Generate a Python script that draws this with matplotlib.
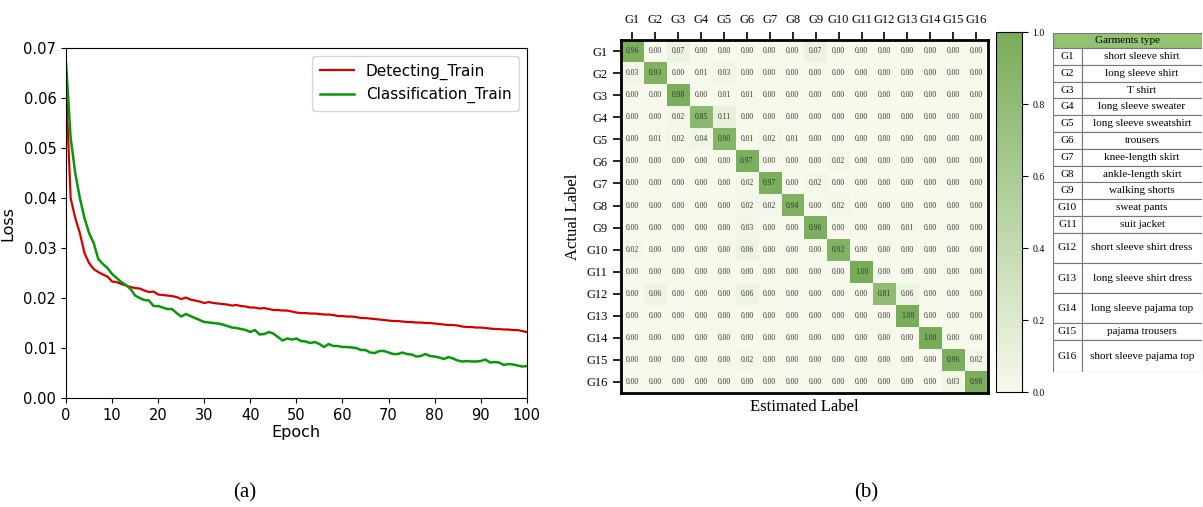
import numpy as np
import matplotlib.pyplot as plt
from matplotlib.colors import LinearSegmentedColormap
from matplotlib.patches import Rectangle

# ---- data ----
epochs = list(range(101))
detect_loss = [0.062, 0.040, 0.036, 0.033, 0.029, 0.027, 0.0258, 0.0252, 0.0247, 0.0243,
               0.0233, 0.0232, 0.0228, 0.0225, 0.0222, 0.0220, 0.0219, 0.0215, 0.0212, 0.0213,
               0.0207, 0.0206, 0.0205, 0.0204, 0.0202, 0.0198, 0.0201, 0.0197, 0.0195, 0.0193,
               0.0190, 0.0192, 0.0190, 0.0189, 0.0188, 0.0187, 0.0185, 0.0186, 0.0184, 0.0183,
               0.0181, 0.0181, 0.0179, 0.0180, 0.0178, 0.0176, 0.0176, 0.0175, 0.0175, 0.0173,
               0.0171, 0.0170, 0.0170, 0.0169, 0.0169, 0.0168, 0.0167, 0.0167, 0.0166, 0.0164,
               0.0164, 0.0163, 0.0163, 0.0162, 0.0160, 0.0160, 0.0159, 0.0158, 0.0157, 0.0156,
               0.0155, 0.0154, 0.0154, 0.0153, 0.0152, 0.0152, 0.0151, 0.0151, 0.0150, 0.0150,
               0.0149, 0.0148, 0.0147, 0.0146, 0.0146, 0.0145, 0.0143, 0.0142, 0.0142, 0.0141,
               0.0141, 0.0140, 0.0139, 0.0138, 0.0138, 0.0137, 0.0137, 0.0136, 0.0136, 0.0134,
               0.0132]
class_loss = [0.067, 0.052, 0.045, 0.040, 0.036, 0.033, 0.031, 0.0278, 0.0268, 0.0260,
              0.0248, 0.0240, 0.0232, 0.0226, 0.0218, 0.0205, 0.0200, 0.0196, 0.0195, 0.0184,
              0.0184, 0.0181, 0.0178, 0.0178, 0.0170, 0.0163, 0.0168, 0.0164, 0.0160, 0.0156,
              0.0152, 0.0151, 0.0150, 0.0149, 0.0147, 0.0144, 0.0141, 0.0140, 0.0138, 0.0136,
              0.0132, 0.0136, 0.0127, 0.0128, 0.0132, 0.0129, 0.0122, 0.0115, 0.0119, 0.0117,
              0.0119, 0.0114, 0.0113, 0.0110, 0.0112, 0.0108, 0.0102, 0.0108, 0.0104, 0.0104,
              0.0102, 0.0102, 0.0101, 0.0100, 0.0096, 0.0096, 0.0091, 0.0090, 0.0094, 0.0094,
              0.0091, 0.0088, 0.0088, 0.0091, 0.0088, 0.0087, 0.0083, 0.0084, 0.0088, 0.0084,
              0.0083, 0.0081, 0.0078, 0.0082, 0.0079, 0.0075, 0.0073, 0.0074, 0.0073, 0.0073,
              0.0074, 0.0077, 0.0071, 0.0072, 0.0071, 0.0066, 0.0068, 0.0067, 0.0065, 0.0063,
              0.0064]

labels = ["G%d" % i for i in range(1, 17)]
conf = [
    [0.96, 0.00, 0.07, 0.00, 0.00, 0.00, 0.00, 0.00, 0.07, 0.00, 0.00, 0.00, 0.00, 0.00, 0.00, 0.00],
    [0.03, 0.93, 0.00, 0.01, 0.03, 0.00, 0.00, 0.00, 0.00, 0.00, 0.00, 0.00, 0.00, 0.00, 0.00, 0.00],
    [0.00, 0.00, 0.98, 0.00, 0.01, 0.01, 0.00, 0.00, 0.00, 0.00, 0.00, 0.00, 0.00, 0.00, 0.00, 0.00],
    [0.00, 0.00, 0.02, 0.85, 0.11, 0.00, 0.00, 0.00, 0.00, 0.00, 0.00, 0.00, 0.00, 0.00, 0.00, 0.00],
    [0.00, 0.01, 0.02, 0.04, 0.90, 0.01, 0.02, 0.01, 0.00, 0.00, 0.00, 0.00, 0.00, 0.00, 0.00, 0.00],
    [0.00, 0.00, 0.00, 0.00, 0.00, 0.97, 0.00, 0.00, 0.00, 0.02, 0.00, 0.00, 0.00, 0.00, 0.00, 0.00],
    [0.00, 0.00, 0.00, 0.00, 0.00, 0.02, 0.97, 0.00, 0.02, 0.00, 0.00, 0.00, 0.00, 0.00, 0.00, 0.00],
    [0.00, 0.00, 0.00, 0.00, 0.00, 0.02, 0.02, 0.94, 0.00, 0.02, 0.00, 0.00, 0.00, 0.00, 0.00, 0.00],
    [0.00, 0.00, 0.00, 0.00, 0.00, 0.03, 0.00, 0.00, 0.96, 0.00, 0.00, 0.00, 0.01, 0.00, 0.00, 0.00],
    [0.02, 0.00, 0.00, 0.00, 0.00, 0.06, 0.00, 0.00, 0.00, 0.92, 0.00, 0.00, 0.00, 0.00, 0.00, 0.00],
    [0.00, 0.00, 0.00, 0.00, 0.00, 0.00, 0.00, 0.00, 0.00, 0.00, 1.00, 0.00, 0.00, 0.00, 0.00, 0.00],
    [0.00, 0.06, 0.00, 0.00, 0.00, 0.06, 0.00, 0.00, 0.00, 0.00, 0.00, 0.81, 0.06, 0.00, 0.00, 0.00],
    [0.00, 0.00, 0.00, 0.00, 0.00, 0.00, 0.00, 0.00, 0.00, 0.00, 0.00, 0.00, 1.00, 0.00, 0.00, 0.00],
    [0.00, 0.00, 0.00, 0.00, 0.00, 0.00, 0.00, 0.00, 0.00, 0.00, 0.00, 0.00, 0.00, 1.00, 0.00, 0.00],
    [0.00, 0.00, 0.00, 0.00, 0.00, 0.02, 0.00, 0.00, 0.00, 0.00, 0.00, 0.00, 0.00, 0.00, 0.96, 0.02],
    [0.00, 0.00, 0.00, 0.00, 0.00, 0.00, 0.00, 0.00, 0.00, 0.00, 0.00, 0.00, 0.00, 0.00, 0.03, 0.98],
]
garments = ["short sleeve shirt", "long sleeve shirt", "T shirt", "long sleeve sweater",
            "long sleeve sweatshirt", "trousers", "knee-length skirt", "ankle-length skirt",
            "walking shorts", "sweat pants", "suit jacket", "short sleeve shirt dress",
            "long sleeve shirt dress", "long sleeve pajama top", "pajama trousers",
            "short sleeve pajama top"]
# relative row heights in the garment table (two-line rows are taller)
row_h = [1, 1, 1, 1, 1, 1, 1, 1, 1, 1, 1, 1.8, 1.8, 1.8, 1, 1.9]

serif = "Liberation Serif"
fig = plt.figure(figsize=(12.03, 5.07), dpi=100)

# ---- (a) loss curves ----
ax = fig.add_axes([0.0549, 0.215, 0.383, 0.690])
ax.plot(epochs, detect_loss, color="#d40000", lw=1.6, label="Detecting_Train")
ax.plot(epochs, class_loss, color="#0a960a", lw=1.8, label="Classification_Train")
ax.set_xlim(0, 100)
ax.set_ylim(0, 0.07)
ax.set_xticks(range(0, 101, 10))
ax.set_yticks(np.arange(0, 0.071, 0.01))
ax.set_yticklabels(["%.2f" % v for v in np.arange(0, 0.071, 0.01)])
ax.tick_params(labelsize=10.5)
ax.set_xlabel("Epoch", fontsize=11.5, labelpad=2)
ax.set_ylabel("Loss", fontsize=11.5, labelpad=6)
ax.legend(loc="upper right", fontsize=11, handlelength=2.2, borderpad=0.5)
fig.text(245 / 1203, 1 - 493 / 507, "(a)", ha="center", va="center",
         family=serif, fontsize=15)

# ---- (b) confusion matrix ----
cmap = LinearSegmentedColormap.from_list("cream_green", ["#f6f9ec", "#78ad58"])
cm = np.array(conf)
axm = fig.add_axes([0.516, 0.2249, 0.305, 0.696])
im = axm.imshow(cm, cmap=cmap, vmin=0, vmax=1, aspect="auto")
for i in range(16):
    for j in range(16):
        axm.text(j, i, "%.2f" % cm[i, j], ha="center", va="center",
                 fontsize=5.5, family=serif, color="#333333")
axm.set_xticks(range(16))
axm.set_yticks(range(16))
axm.set_xticklabels(labels, family=serif, fontsize=9)
axm.set_yticklabels(labels, family=serif, fontsize=9)
axm.xaxis.tick_top()
axm.tick_params(length=6, width=1.2)
axm.tick_params(axis="x", pad=4)
for s in axm.spines.values():
    s.set_linewidth(2)
axm.set_ylabel("Actual Label", family=serif, fontsize=12, labelpad=4)
axm.set_xlabel("Estimated Label", family=serif, fontsize=12, labelpad=4)

cax = fig.add_axes([0.828, 0.2268, 0.0216, 0.710])
cb = fig.colorbar(im, cax=cax)
cb.set_ticks([0, 0.2, 0.4, 0.6, 0.8, 1.0])
cb.ax.tick_params(labelsize=7, length=4)
for t in cb.ax.get_yticklabels():
    t.set_family(serif)
cb.outline.set_linewidth(0.8)

# ---- garment table ----
axt = fig.add_axes([0.8753, 0.266, 0.1239, 0.669])
axt.set_axis_off()
total = 0.9 + sum(row_h)
axt.set_xlim(0, 1)
axt.set_ylim(total, 0)
split = 0.195
axt.add_patch(Rectangle((0, 0), 1, 0.9, facecolor="#92c272", edgecolor="#777777", lw=0.8))
axt.text(0.5, 0.45, "Garments type", ha="center", va="center", family=serif, fontsize=8)
y = 0.9
for code, name, h in zip(labels, garments, row_h):
    axt.add_patch(Rectangle((0, y), split, h, facecolor="white", edgecolor="#777777", lw=0.8))
    axt.add_patch(Rectangle((split, y), 1 - split, h, facecolor="white", edgecolor="#777777", lw=0.8))
    axt.text(split / 2, y + h / 2, code, ha="center", va="center", family=serif, fontsize=8)
    axt.text((1 + split) / 2, y + h / 2, name, ha="center", va="center", family=serif, fontsize=8)
    y += h

fig.text(866 / 1203, 1 - 493 / 507, "(b)", ha="center", va="center",
         family=serif, fontsize=15)

fig.savefig("out.png", dpi=100)
